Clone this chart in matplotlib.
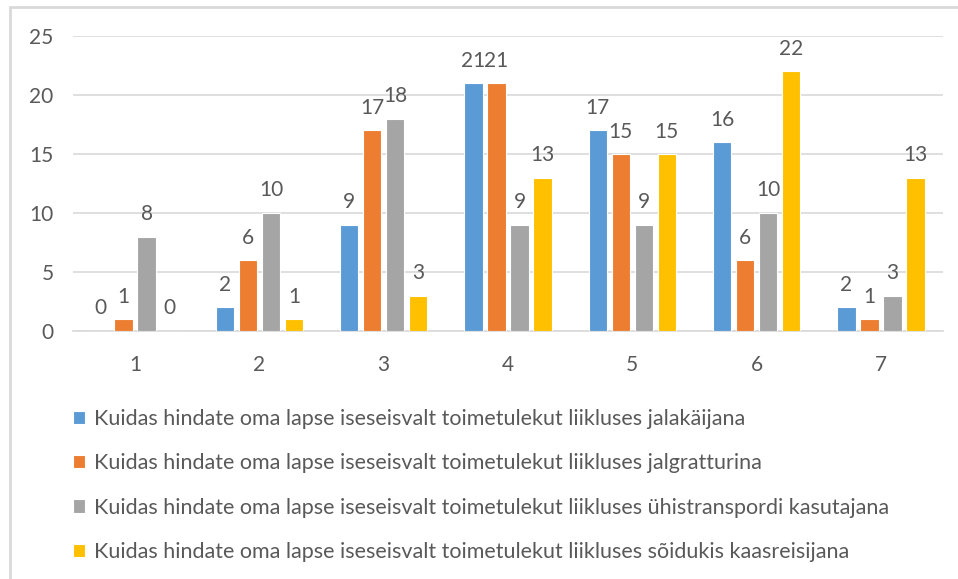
import numpy as np
import matplotlib
matplotlib.use("Agg")
import matplotlib.pyplot as plt
from matplotlib.patches import Rectangle

plt.rcParams["font.family"] = ["Lato", "DejaVu Sans"]

categories = ["1", "2", "3", "4", "5", "6", "7"]
jalakaijana = [0, 2, 9, 21, 17, 16, 2]
jalgratturina = [1, 6, 17, 21, 15, 6, 1]
yhistransport = [8, 10, 18, 9, 9, 10, 3]
kaasreisijana = [0, 1, 3, 13, 15, 22, 13]

series_labels = [
    "Kuidas hindate oma lapse iseseisvalt toimetulekut liikluses jalakäijana",
    "Kuidas hindate oma lapse iseseisvalt toimetulekut liikluses jalgratturina",
    "Kuidas hindate oma lapse iseseisvalt toimetulekut liikluses ühistranspordi kasutajana",
    "Kuidas hindate oma lapse iseseisvalt toimetulekut liikluses sõidukis kaasreisijana",
]
colors = ["#5B9BD5", "#ED7D31", "#A5A5A5", "#FFC000"]
text_color = "#595959"
grid_color = "#D9D9D9"

W, H = 958, 579
fig = plt.figure(figsize=(W / 100, H / 100), dpi=100)
ax = fig.add_axes([73 / W, 1 - 331 / H, (943 - 73) / W, (331 - 36) / H])

x = np.arange(1, len(categories) + 1)
width = 0.148
step = 0.185
all_series = [jalakaijana, jalgratturina, yhistransport, kaasreisijana]
handles = []
for i, (vals, col, lab) in enumerate(zip(all_series, colors, series_labels)):
    bars = ax.bar(x + (i - 1.5) * step, vals, width, color=col,
                  edgecolor="white", linewidth=0.8, label=lab, zorder=3)
    ax.bar_label(bars, padding=9, fontsize=15, color=text_color)
    handles.append(bars)

ax.set_xlim(0.5, 7.5)
ax.set_ylim(0, 25)
ax.set_yticks([0, 5, 10, 15, 20, 25])
ax.set_xticks(x)
ax.set_xticklabels(categories)
ax.yaxis.grid(True, color=grid_color, linewidth=1.2, zorder=0)
ax.tick_params(axis="both", length=0, labelsize=15, colors=text_color)
ax.tick_params(axis="y", pad=14)
ax.tick_params(axis="x", pad=17)
for s in ["top", "right", "left"]:
    ax.spines[s].set_visible(False)
ax.spines["bottom"].set_color(grid_color)
ax.spines["bottom"].set_linewidth(1.2)

leg = fig.legend(handles=handles, labels=series_labels, loc="upper left",
                 bbox_to_anchor=(73 / W, 1 - 409 / H), frameon=False,
                 fontsize=15.5, labelcolor=text_color, handlelength=0.58,
                 handleheight=0.58, handletextpad=0.4, labelspacing=1.13,
                 borderaxespad=0, borderpad=0)

# outer chart-area border
fig.add_artist(Rectangle((10 / W, -0.05), 1.0, 1.05 - 7 / H,
                         transform=fig.transFigure, fill=False,
                         edgecolor=grid_color, linewidth=2))

fig.savefig("out.png", dpi=100)
